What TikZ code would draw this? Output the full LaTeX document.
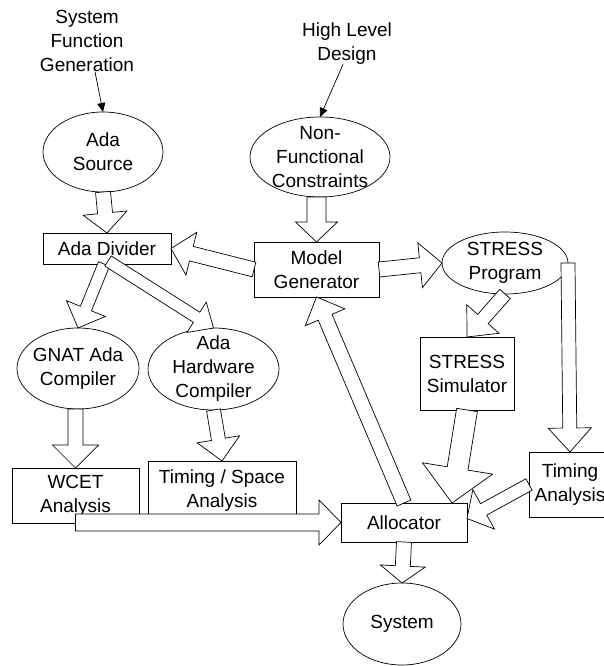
\documentclass[tikz,border=0pt]{standalone}
\usepackage{fontspec}
\setmainfont{Liberation Sans}
\usetikzlibrary{shapes.geometric,calc,arrows.meta}

% Hollow block arrow from #1 to #2: shaft half width #3, head half width #4, head length #5 (pt)
\newcommand\flowarrow[5]{%
  \coordinate (fa-s) at #1;
  \coordinate (fa-t) at #2;
  \coordinate (fa-b) at ($(fa-t)!#5pt!(fa-s)$);
  \draw[blockarrow]
    ($(fa-s)!#3pt!90:(fa-t)$) -- ($(fa-b)!#3pt!90:(fa-t)$) -- ($(fa-b)!#4pt!90:(fa-t)$)
    -- (fa-t)
    -- ($(fa-b)!#4pt!-90:(fa-t)$) -- ($(fa-b)!#3pt!-90:(fa-t)$) -- ($(fa-s)!#3pt!-90:(fa-t)$)
    -- cycle;
}

\tikzset{
  every node/.style={font=\fontsize{19pt}{24pt}\selectfont, inner sep=0pt, outer sep=0pt, align=center},
  oval/.style={draw, ellipse, line width=0.7pt},
  box/.style={draw, rectangle, line width=0.7pt},
  blockarrow/.style={draw, fill=white, line width=0.7pt, line join=miter},
  thinarrow/.style={line width=0.7pt, -{Triangle[length=9pt,width=8pt]}},
}

\begin{document}
\begin{tikzpicture}[x=1pt, y=-1pt]
  \clip (0,0) rectangle (604,666);
  \fill[white] (0,0) rectangle (604,666);

  % sources of input
  \node (sfg) at (87,41) {System\\Function\\Generation};
  \node (hld) at (347,43.5) {High Level\\Design};

  % ovals
  \node[oval, minimum width=120pt, minimum height=80pt, label={center:Ada\\Source}] (ada) at (103,152) {};
  \node[oval, minimum width=140pt, minimum height=80pt, label={center:Non-\\Functional\\Constraints}] (nfc) at (320,157) {};
  \node[oval, minimum width=126pt, minimum height=62pt, label={center:STRESS\\Program}] (stp) at (505,263) {};
  \node[oval, minimum width=122pt, minimum height=81pt, label={center:GNAT Ada\\Compiler}] (gnat) at (78,368.5) {};
  \node[oval, minimum width=131pt, minimum height=82pt, label={center:Ada\\Hardware\\Compiler}] (hw) at (213.5,369) {};
  \node[oval, minimum width=118pt, minimum height=82pt, label={center:System}] (sys) at (402,624) {};

  % boxes
  \node[box, minimum width=128pt, minimum height=31pt] (div) at (107,248.5) {Ada Divider};
  \node[box, minimum width=125pt, minimum height=55pt] (model) at (316.5,269.5) {Model\\Generator};
  \node[box, minimum width=94pt, minimum height=73pt] (sim) at (467,373.5) {STRESS\\Simulator};
  \node[box, minimum width=127pt, minimum height=55pt] (wcet) at (75.5,495.5) {WCET\\Analysis};
  \node[box, minimum width=148pt, minimum height=60pt] (ts) at (222,491) {Timing / Space\\Analysis};
  \node[box, minimum width=126pt, minimum height=39pt] (alloc) at (404,522.5) {Allocator};
  \node[box, minimum width=82pt, minimum height=65pt] (tim) at (570,484.5) {Timing\\Analysis};

  % thin input arrows
  \draw[thinarrow] ([xshift=8pt]sfg.south) -- (ada.north);
  \draw[thinarrow] ([xshift=-4pt]hld.south) -- (nfc.north);

  % block arrows
  \flowarrow{(ada.south)}{(div.north)}{7.5}{22}{20}
  \flowarrow{(model.north |- nfc.south)}{(model.north)}{9.5}{21}{20}
  \flowarrow{(model.west)}{(div.east)}{7.5}{22}{21}
  \flowarrow{(model.east)}{(stp.west)}{7.5}{22.5}{22}
  \flowarrow{([xshift=-3pt]div.south)}{(gnat.north)}{6}{21}{21}
  \flowarrow{([xshift=1pt,yshift=3pt]div.south)}{(hw.north)}{6}{18}{20}
  \flowarrow{(wcet.north |- gnat.south)}{(wcet.north)}{7.5}{23}{23}
  \flowarrow{(hw.south)}{(ts.north)}{7}{21.5}{22}
  \flowarrow{(stp.south)}{(sim.north)}{7}{21.5}{24}
  \flowarrow{(stp.east)}{(tim.north)}{7}{21.5}{24}
  \flowarrow{(sim.south)}{([xshift=-15pt]alloc.north east)}{10.5}{35.5}{35}
  \flowarrow{(tim.west)}{([yshift=4pt]alloc.east)}{6.5}{22.5}{19}
  \flowarrow{(alloc.north)}{(model.south)}{7.5}{21.5}{22}
  \flowarrow{(wcet.center |- alloc.west)}{(alloc.west)}{8.5}{22.5}{22}
  \flowarrow{(alloc.south)}{(sys.north)}{7.5}{22.5}{17}
\end{tikzpicture}
\end{document}
